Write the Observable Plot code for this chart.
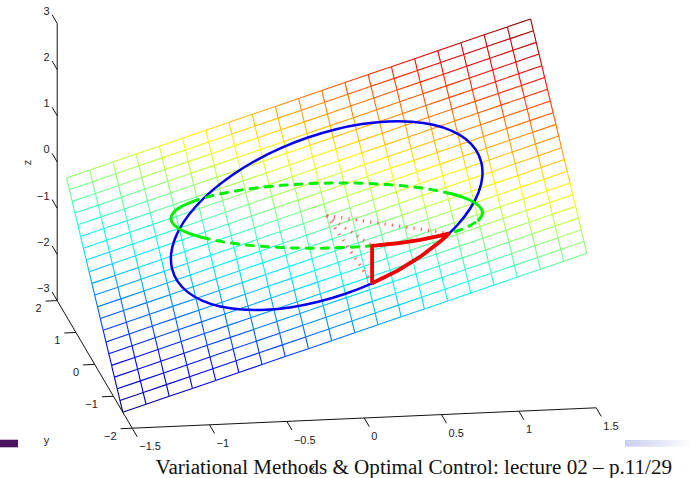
<!DOCTYPE html>
<html>
<head>
<meta charset="utf-8">
<script src="https://cdn.jsdelivr.net/npm/d3@7"></script>
<script src="https://cdn.jsdelivr.net/npm/@observablehq/plot@0.6"></script>
<style>html,body{margin:0;padding:0;background:#fff}svg{display:block}</style>
</head>
<body>
<div id="chart"></div>
<script>
// Surface mesh
const gridX = [-1.5,-1.35,-1.2,-1.05,-.9,-.75,-.6,-.45,-.3,-.15,0,.15,.3,.45,.6,.75,.9,1.05,1.2,1.35,1.5];
const gridY = [-1.5,-1.35,-1.2,-1.05,-.9,-.75,-.6,-.45,-.3,-.15,0,.15,.3,.45,.6,.75,.9,1.05,1.2,1.35,1.5];
const gridZ = [
[-3,-2.85,-2.7,-2.55,-2.4,-2.25,-2.1,-1.95,-1.8,-1.65,-1.5,-1.35,-1.2,-1.05,-.9,-.75,-.6,-.45,-.3,-.15,0],
[-2.85,-2.7,-2.55,-2.4,-2.25,-2.1,-1.95,-1.8,-1.65,-1.5,-1.35,-1.2,-1.05,-.9,-.75,-.6,-.45,-.3,-.15,0,.15],
[-2.7,-2.55,-2.4,-2.25,-2.1,-1.95,-1.8,-1.65,-1.5,-1.35,-1.2,-1.05,-.9,-.75,-.6,-.45,-.3,-.15,0,.15,.3],
[-2.55,-2.4,-2.25,-2.1,-1.95,-1.8,-1.65,-1.5,-1.35,-1.2,-1.05,-.9,-.75,-.6,-.45,-.3,-.15,0,.15,.3,.45],
[-2.4,-2.25,-2.1,-1.95,-1.8,-1.65,-1.5,-1.35,-1.2,-1.05,-.9,-.75,-.6,-.45,-.3,-.15,0,.15,.3,.45,.6],
[-2.25,-2.1,-1.95,-1.8,-1.65,-1.5,-1.35,-1.2,-1.05,-.9,-.75,-.6,-.45,-.3,-.15,0,.15,.3,.45,.6,.75],
[-2.1,-1.95,-1.8,-1.65,-1.5,-1.35,-1.2,-1.05,-.9,-.75,-.6,-.45,-.3,-.15,0,.15,.3,.45,.6,.75,.9],
[-1.95,-1.8,-1.65,-1.5,-1.35,-1.2,-1.05,-.9,-.75,-.6,-.45,-.3,-.15,0,.15,.3,.45,.6,.75,.9,1.05],
[-1.8,-1.65,-1.5,-1.35,-1.2,-1.05,-.9,-.75,-.6,-.45,-.3,-.15,0,.15,.3,.45,.6,.75,.9,1.05,1.2],
[-1.65,-1.5,-1.35,-1.2,-1.05,-.9,-.75,-.6,-.45,-.3,-.15,0,.15,.3,.45,.6,.75,.9,1.05,1.2,1.35],
[-1.5,-1.35,-1.2,-1.05,-.9,-.75,-.6,-.45,-.3,-.15,0,.15,.3,.45,.6,.75,.9,1.05,1.2,1.35,1.5],
[-1.35,-1.2,-1.05,-.9,-.75,-.6,-.45,-.3,-.15,0,.15,.3,.45,.6,.75,.9,1.05,1.2,1.35,1.5,1.65],
[-1.2,-1.05,-.9,-.75,-.6,-.45,-.3,-.15,0,.15,.3,.45,.6,.75,.9,1.05,1.2,1.35,1.5,1.65,1.8],
[-1.05,-.9,-.75,-.6,-.45,-.3,-.15,0,.15,.3,.45,.6,.75,.9,1.05,1.2,1.35,1.5,1.65,1.8,1.95],
[-.9,-.75,-.6,-.45,-.3,-.15,0,.15,.3,.45,.6,.75,.9,1.05,1.2,1.35,1.5,1.65,1.8,1.95,2.1],
[-.75,-.6,-.45,-.3,-.15,0,.15,.3,.45,.6,.75,.9,1.05,1.2,1.35,1.5,1.65,1.8,1.95,2.1,2.25],
[-.6,-.45,-.3,-.15,0,.15,.3,.45,.6,.75,.9,1.05,1.2,1.35,1.5,1.65,1.8,1.95,2.1,2.25,2.4],
[-.45,-.3,-.15,0,.15,.3,.45,.6,.75,.9,1.05,1.2,1.35,1.5,1.65,1.8,1.95,2.1,2.25,2.4,2.55],
[-.3,-.15,0,.15,.3,.45,.6,.75,.9,1.05,1.2,1.35,1.5,1.65,1.8,1.95,2.1,2.25,2.4,2.55,2.7],
[-.15,0,.15,.3,.45,.6,.75,.9,1.05,1.2,1.35,1.5,1.65,1.8,1.95,2.1,2.25,2.4,2.55,2.7,2.85],
[0,.15,.3,.45,.6,.75,.9,1.05,1.2,1.35,1.5,1.65,1.8,1.95,2.1,2.25,2.4,2.55,2.7,2.85,3]
];

// Circle on the plane (blue) and at z = 0 (green), sampled every 10 degrees
const circleX = [1,.985,.94,.866,.766,.643,.5,.342,.174,0,-.174,-.342,-.5,-.643,-.766,-.866,-.94,-.985,-1,-.985,-.94,-.866,-.766,-.643,-.5,-.342,-.174,0,.174,.342,.5,.643,.766,.866,.94,.985];
const circleY = [0,.174,.342,.5,.643,.766,.866,.94,.985,1,.985,.94,.866,.766,.643,.5,.342,.174,0,-.174,-.342,-.5,-.643,-.766,-.866,-.94,-.985,-1,-.985,-.94,-.866,-.766,-.643,-.5,-.342,-.174];
const blueZ = [1,1.159,1.282,1.366,1.409,1.409,1.366,1.282,1.159,1,.811,.598,.366,.123,-.123,-.366,-.598,-.811,-1,-1.159,-1.282,-1.366,-1.409,-1.409,-1.366,-1.282,-1.159,-1,-.811,-.598,-.366,-.123,.123,.366,.598,.811];
// Green circle runs: index ranges into the circle samples
const greenSolid = [[34,35,0,1,2,3],[14,15,16,17,18,19,20,21]];
const greenDashed = [[3,4,5,6,7,8,9,10,11,12,13,14],[21,22,23,24,25,26,27,28,29,30,31,32,33,34]];

// Red region boundary
const redX = [.174,.342,.5,.643,.707,.643,.5,.342,.174,.174];
const redY = [-.985,-.94,-.866,-.766,-.707,-.766,-.866,-.94,-.985,-.985];
const redZ = [0,0,0,0,0,-.123,-.366,-.598,-.811,0];

// Dotted rays from the origin
const rayEndX = [.707,.174,.174];
const rayEndY = [-.707,-.985,-.985];
const rayEndZ = [0,0,-.811];

// Axes
const xTicks = [-1.5,-1,-.5,0,.5,1,1.5];
const xTickLabels = ["−1.5","−1","−0.5","0","0.5","1","1.5"];
const yTicks = [-2,-1,0,1,2];
const yTickLabels = ["−2","−1","0","1","2"];
const zTicks = [-3,-2,-1,0,1,2,3];
const zTickLabels = ["−3","−2","−1","0","1","2","3"];
const axisNames = ["x","y","z"];
const axisNameX = [-.515,-2.085,-1.695];
const axisNameY = [-3.47,-2.26,2];
const axisNameZ = [-3,-3,.02];
const footer = "Variational Methods & Optimal Control: lecture 02 – p.11/29";

// Jet colours over z
const jetDomain = [-3,-2.25,-.75,.75,2.25,3];
const jetRange = ["#00007f","#0000ff","#00ffff","#ffff00","#ff0000","#7f0000"];

// Orthographic view of the 3-D box
const sx = (x,y) => 131.7 + (x+1.5)*154.67 - (y+2)*18.75;
const sy = (x,y,z) => 427.7 - (x+1.5)*6.8 - (y+2)*31.9 - (z+3)*46.2;
const seg = (a,b) => ({x1:sx(a[0],a[1]),y1:sy(a[0],a[1],a[2]),x2:sx(b[0],b[1]),y2:sy(b[0],b[1],b[2])});
const pt = (x,y,z) => ({sx:sx(x,y),sy:sy(x,y,z)});

const mesh = [];
gridY.forEach((y,i)=>gridX.forEach((x,j)=>{
  const z = gridZ[i][j];
  if (j<20) mesh.push({...seg([x,y,z],[gridX[j+1],y,gridZ[i][j+1]]),z:(z+gridZ[i][j+1])/2});
  if (i<20) mesh.push({...seg([x,y,z],[x,gridY[i+1],gridZ[i+1][j]]),z:(z+gridZ[i+1][j])/2});
}));
const blue = circleX.map((x,i)=>pt(x,circleY[i],blueZ[i]));
const greenRun = idx => idx.map(i=>({...pt(circleX[i],circleY[i],0),run:idx[0]}));
const green1 = greenSolid.flatMap(greenRun);
const green2 = greenDashed.flatMap(greenRun);
const red = redX.map((x,i)=>pt(x,redY[i],redZ[i]));
const rays = rayEndX.map((x,i)=>seg([0,0,0],[x,rayEndY[i],rayEndZ[i]]));

const axes = [
  seg([-1.5,-2,-3],[1.5,-2,-3]),
  seg([-1.5,-2,-3],[-1.5,2,-3]),
  seg([-1.5,2,-3],[-1.5,2,3]),
  ...xTicks.map(v=>seg([v,-2,-3],[v,-2.27,-3])),
  ...yTicks.map(v=>seg([-1.5,v,-3],[-1.575,v,-3])),
  ...zTicks.map(v=>seg([-1.5,2,v],[-1.5,2.27,v]))
];
const xLab = xTicks.map((v,i)=>({...pt(v,-2.27,-3),t:xTickLabels[i]}));
const yLab = yTicks.map((v,i)=>({...pt(-1.575,v,-3),t:yTickLabels[i]}));
const zLab = zTicks.map((v,i)=>({...pt(-1.5,2.27,v),t:zTickLabels[i]}));
const names = axisNames.map((t,i)=>({...pt(axisNameX[i],axisNameY[i],axisNameZ[i]),t}));

const sans = "Liberation Sans, Helvetica, Arial, sans-serif";
const tickText = {x:"sx",y:"sy",text:"t",fontFamily:sans,fontSize:11,fill:"#222"};

const gradient = () => {
  const ns = "http://www.w3.org/2000/svg";
  const defs = document.createElementNS(ns,"defs");
  defs.innerHTML = '<linearGradient id="navGrad" x1="0" x2="1" y1="0" y2="0"><stop offset="0" stop-color="#c8ceee"/><stop offset="1" stop-color="#ffffff"/></linearGradient>';
  return defs;
};

const plot = Plot.plot({
  width:693,height:478,
  marginTop:0,marginRight:0,marginBottom:0,marginLeft:0,
  x:{domain:[0,693],range:[0,693],axis:null},
  y:{domain:[0,478],range:[0,478],axis:null},
  color:{type:"linear",domain:jetDomain,range:jetRange,legend:false},
  style:{background:"#fff"},
  marks:[
    gradient,
    Plot.rect([{x1:0,x2:18,y1:439.7,y2:447.3}],{x1:"x1",x2:"x2",y1:"y1",y2:"y2",fill:"#4a1461"}),
    Plot.rect([{x1:625,x2:693,y1:440,y2:446.7}],{x1:"x1",x2:"x2",y1:"y1",y2:"y2",fill:"url(#navGrad)"}),
    Plot.link(axes,{x1:"x1",y1:"y1",x2:"x2",y2:"y2",stroke:"#111",strokeWidth:1}),
    Plot.text(xLab,{...tickText,textAnchor:"start",dx:2,dy:10}),
    Plot.text(yLab,{...tickText,textAnchor:"end",dx:-4,dy:7.5}),
    Plot.text(zLab,{...tickText,textAnchor:"end",dx:-2.5,dy:-3.5}),
    Plot.text(names.filter(d=>d.t!=="z"),{x:"sx",y:"sy",text:"t",fontFamily:sans,fontSize:11,fill:"#222"}),
    Plot.text(names.filter(d=>d.t==="z"),{x:"sx",y:"sy",text:"t",rotate:-90,fontFamily:sans,fontSize:11,fill:"#222"}),
    Plot.link(mesh,{x1:"x1",y1:"y1",x2:"x2",y2:"y2",stroke:"z",strokeWidth:1.1}),
    Plot.line(blue,{x:"sx",y:"sy",curve:"catmull-rom-closed",stroke:"#0000f0",strokeWidth:2.5}),
    Plot.line(green1,{x:"sx",y:"sy",z:"run",curve:"catmull-rom",stroke:"#00f000",strokeWidth:3}),
    Plot.line(green2,{x:"sx",y:"sy",z:"run",curve:"catmull-rom",stroke:"#00f000",strokeWidth:3,strokeDasharray:"7 8"}),
    Plot.link(rays,{x1:"x1",y1:"y1",x2:"x2",y2:"y2",stroke:"#ff6464",strokeWidth:3.2,strokeDasharray:"1.3 6"}),
    Plot.line(red,{x:"sx",y:"sy",stroke:"#f00000",strokeWidth:3.8,strokeLinejoin:"miter"}),
    Plot.text([footer],{frameAnchor:"bottom-left",dx:155,dy:-4.5,fontFamily:"Liberation Serif, Times New Roman, serif",fontSize:21.1,fill:"#111",textAnchor:"start"})
  ]
});
document.getElementById("chart").appendChild(plot);
</script>
</body>
</html>
